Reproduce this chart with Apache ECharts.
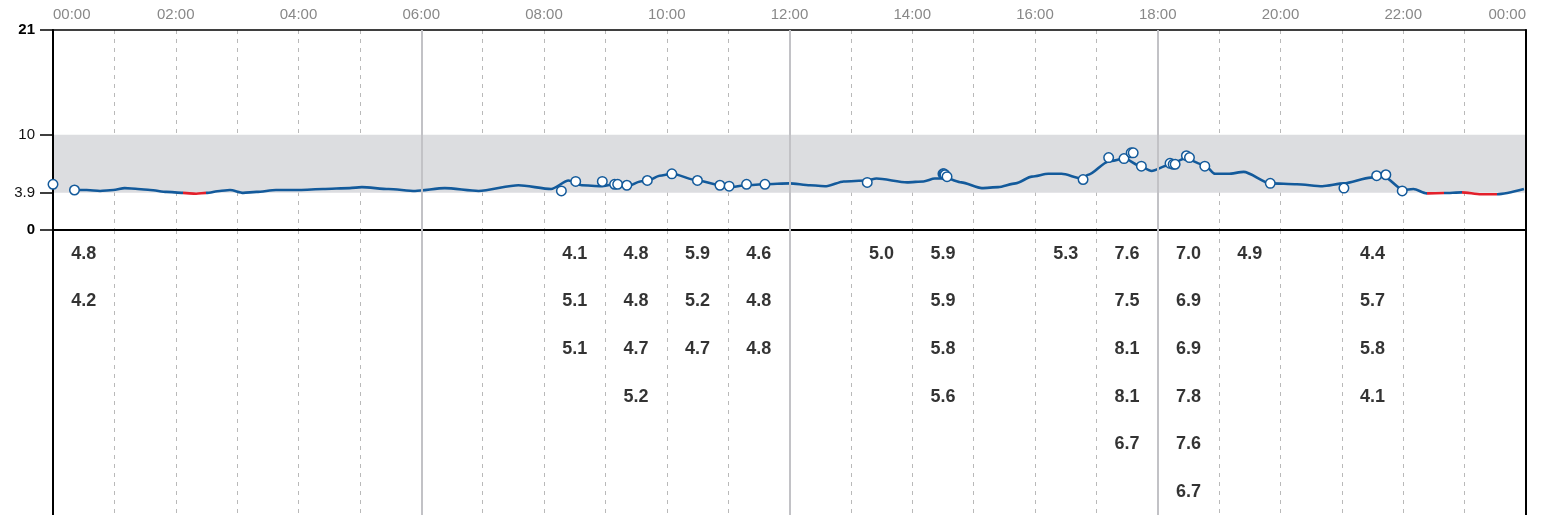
<!DOCTYPE html>
<html>
<head>
<meta charset="utf-8">
<script src="https://cdn.jsdelivr.net/npm/echarts@6/dist/echarts.min.js"></script>
<style>
html,body{margin:0;padding:0;background:#fff;}
#chart{width:1543px;height:515px;}
</style>
</head>
<body>
<div id="chart"></div>
<script>
// ---- data ----
// continuous glucose trace (time, mmol/L)
const cgmTimes = ["00:21","00:33","00:46","00:59","01:10","01:23","01:35","01:51","02:07","02:20","02:30","02:43","02:53","03:06","03:19","03:38","04:01","04:24","04:50","05:02","05:28","05:54","06:23","06:56","07:35","08:07","08:24","08:37","08:56","09:09","09:22","09:34","09:42","09:53","10:05","10:30","10:52","11:01","11:18","11:36","12:00","12:20","12:36","12:53","13:15","13:25","13:55","14:11","14:22","14:34","14:48","15:08","15:24","15:41","15:57","16:13","16:26","16:46","16:52","17:12","17:28","17:41","17:54","18:10","18:27","18:46","18:56","19:09","19:24","19:50","20:16","20:41","21:02","21:28","21:41","22:00","22:10","22:23","22:40","22:57","23:16","23:32","23:58"];
const cgmValues = [4.2,4.2,4.1,4.2,4.4,4.3,4.2,4.0,3.9,3.8,3.9,4.1,4.2,3.9,4.0,4.2,4.2,4.3,4.4,4.5,4.3,4.1,4.4,4.1,4.7,4.3,5.2,4.7,4.6,4.8,4.6,5.1,5.2,5.7,5.9,5.2,4.7,4.5,4.7,4.8,4.9,4.7,4.6,5.1,5.2,5.4,5.0,5.1,5.4,5.4,5.0,4.4,4.5,4.9,5.6,5.9,5.9,5.4,5.8,7.2,7.5,6.8,6.2,6.8,7.5,6.8,5.9,5.9,6.1,4.9,4.8,4.6,4.9,5.5,5.6,4.2,4.3,3.85,3.88,3.95,3.75,3.75,4.3];
// finger-stick readings (time, mmol/L)
const fsTimes = ["00:00","00:21","08:17","08:31","08:57","09:09","09:12","09:21","09:41","10:05","10:30","10:52","11:01","11:18","11:36","13:16","14:30","14:31","14:32","14:34","16:47","17:12","17:27","17:34","17:36","17:44","18:12","18:15","18:17","18:28","18:31","18:46","19:50","21:02","21:34","21:43","21:59"];
const fsValues = [4.8,4.2,4.1,5.1,5.1,4.8,4.8,4.7,5.2,5.9,5.2,4.7,4.6,4.8,4.8,5.0,5.9,5.9,5.8,5.6,5.3,7.6,7.5,8.1,8.1,6.7,7.0,6.9,6.9,7.8,7.6,6.7,4.9,4.4,5.7,5.8,4.1];
// axes
const yTicks = [0, 3.9, 10, 21];
const yBoldTicks = [0, 21];
const targetLow = 3.9, targetHigh = 10;
const sectionHours = [6, 12, 18];
const tableRows = 6;

// ---- helpers ----
const toH = s => { const [h, m] = s.split(':').map(Number); return h + m / 60; };
const pad = n => (n < 10 ? '0' : '') + n;
const BLUE = '#135a9b', RED = '#e3202b';

const cgmData = cgmTimes.map((t, i) => [toH(t), cgmValues[i]]);
const fsData = fsTimes.map((t, i) => [toH(t), fsValues[i]]);

// low sections of the trace
const lowPieces = [];
for (let i = 0; i < cgmData.length - 1; i++) {
  if ((cgmData[i][1] + cgmData[i + 1][1]) / 2 < targetLow) {
    lowPieces.push({ gte: cgmData[i][0], lte: cgmData[i + 1][0], color: RED });
  }
}

// table below: readings grouped by hour
const counts = {};
const tableData = fsData.map(([t, v]) => {
  const h = Math.floor(t);
  counts[h] = (counts[h] || 0);
  const row = counts[h]++;
  return [h + 0.5, row + 0.5, v];
});

const FONT = 'Liberation Sans';
const sectionLines = sectionHours.map(h => ({ xAxis: h }));

const chart = echarts.init(document.getElementById('chart'), null, { renderer: 'canvas' });
chart.setOption({
  animation: false,
  backgroundColor: '#fff',
  textStyle: { fontFamily: FONT },
  grid: [
    { left: 53, right: 17, top: 30, height: 200, outerBoundsMode: 'none', containLabel: false },
    { left: 53, right: 17, top: 230, height: 285.6, outerBoundsMode: 'none', containLabel: false }
  ],
  xAxis: [
    {
      gridIndex: 0, type: 'value', min: 0, max: 24, interval: 1, position: 'top', z: 1,
      axisLine: { show: true, onZero: false, lineStyle: { color: '#000', width: 1.5 } },
      axisTick: { show: false },
      axisLabel: {
        color: '#888888', fontSize: 15, margin: 8, fontFamily: FONT,
        alignMinLabel: 'left', alignMaxLabel: 'right',
        formatter: v => (v % 2 === 0 ? pad(v % 24) + ':00' : '')
      },
      splitLine: { show: true, lineStyle: { color: '#b9b9b9', width: 1, type: [4, 5] } }
    },
    {
      gridIndex: 0, type: 'value', min: 0, max: 24, interval: 1, position: 'bottom', z: 1,
      axisLine: { show: true, onZero: false, lineStyle: { color: '#000', width: 2 } },
      axisTick: { show: false }, axisLabel: { show: false }, splitLine: { show: false }
    },
    {
      gridIndex: 1, type: 'value', min: 0, max: 24, interval: 1, z: 1,
      axisLine: { show: false }, axisTick: { show: false }, axisLabel: { show: false },
      splitLine: { show: true, lineStyle: { color: '#b9b9b9', width: 1, type: [4, 5] } }
    }
  ],
  yAxis: [
    {
      gridIndex: 0, type: 'value', min: 0, max: 21, z: 1,
      axisLine: { show: true, onZero: false, lineStyle: { color: '#000', width: 2 } },
      axisTick: { show: true, length: 13, customValues: yTicks, lineStyle: { color: '#000', width: 1.5 } },
      axisLabel: {
        customValues: yTicks, margin: 18, fontFamily: FONT,
        formatter: v => (yBoldTicks.includes(v) ? '{b|' + v + '}' : '{n|' + v + '}'),
        rich: {
          b: { fontSize: 15, fontWeight: 'bold', color: '#000', fontFamily: FONT },
          n: { fontSize: 15, color: '#111', fontFamily: FONT }
        }
      },
      splitLine: { show: false }
    },
    {
      gridIndex: 0, type: 'value', min: 0, max: 21, position: 'right', z: 1,
      axisLine: { show: true, onZero: false, lineStyle: { color: '#000', width: 2 } },
      axisTick: { show: false }, axisLabel: { show: false }, splitLine: { show: false }
    },
    {
      gridIndex: 1, type: 'value', min: 0, max: tableRows, inverse: true, z: 1,
      axisLine: { show: true, onZero: false, lineStyle: { color: '#000', width: 2 } },
      axisTick: { show: false }, axisLabel: { show: false }, splitLine: { show: false }
    },
    {
      gridIndex: 1, type: 'value', min: 0, max: tableRows, inverse: true, position: 'right', z: 1,
      axisLine: { show: true, onZero: false, lineStyle: { color: '#000', width: 2 } },
      axisTick: { show: false }, axisLabel: { show: false }, splitLine: { show: false }
    }
  ],
  visualMap: {
    type: 'piecewise', show: false, dimension: 0, seriesIndex: 2,
    pieces: lowPieces, outOfRange: { color: BLUE }
  },
  series: [
    {
      name: 'target', type: 'line', xAxisIndex: 0, yAxisIndex: 0, z: 0, silent: true,
      data: [[0, targetLow], [24, targetLow]], symbol: 'none',
      lineStyle: { width: 0, opacity: 0 },
      markArea: {
        silent: true, itemStyle: { color: '#dcdde0' },
        data: [[{ yAxis: targetLow }, { yAxis: targetHigh }]]
      }
    },
    {
      name: 'sections', type: 'line', xAxisIndex: 0, yAxisIndex: 0, z: 1, silent: true,
      data: [[0, targetLow], [24, targetLow]], symbol: 'none',
      lineStyle: { width: 0, opacity: 0 },
      markLine: {
        silent: true, symbol: 'none', label: { show: false },
        lineStyle: { color: '#c2c2c6', width: 2, type: 'solid' },
        data: sectionLines
      }
    },
    {
      name: 'cgm', type: 'line', xAxisIndex: 0, yAxisIndex: 0, z: 2,
      data: cgmData, showSymbol: false, symbol: 'none',
      smooth: 0.25, smoothMonotone: 'x',
      lineStyle: { width: 2.6 }
    },
    {
      name: 'bg', type: 'scatter', xAxisIndex: 0, yAxisIndex: 0, z: 3, clip: false,
      data: fsData, symbol: 'circle', symbolSize: 9.5,
      itemStyle: { color: '#fff', borderColor: BLUE, borderWidth: 1.5, opacity: 1 }
    },
    {
      name: 'table', type: 'scatter', xAxisIndex: 2, yAxisIndex: 2, z: 3,
      data: tableData, symbol: 'circle', symbolSize: 1,
      itemStyle: { color: 'transparent' },
      label: {
        show: true, position: 'inside', fontSize: 18, fontWeight: 'bold', color: '#000', fontFamily: FONT,
        formatter: p => p.value[2].toFixed(1)
      },
      markLine: {
        silent: true, symbol: 'none', label: { show: false },
        lineStyle: { color: '#c2c2c6', width: 2, type: 'solid' },
        data: sectionLines
      }
    }
  ]
});
</script>
</body>
</html>
